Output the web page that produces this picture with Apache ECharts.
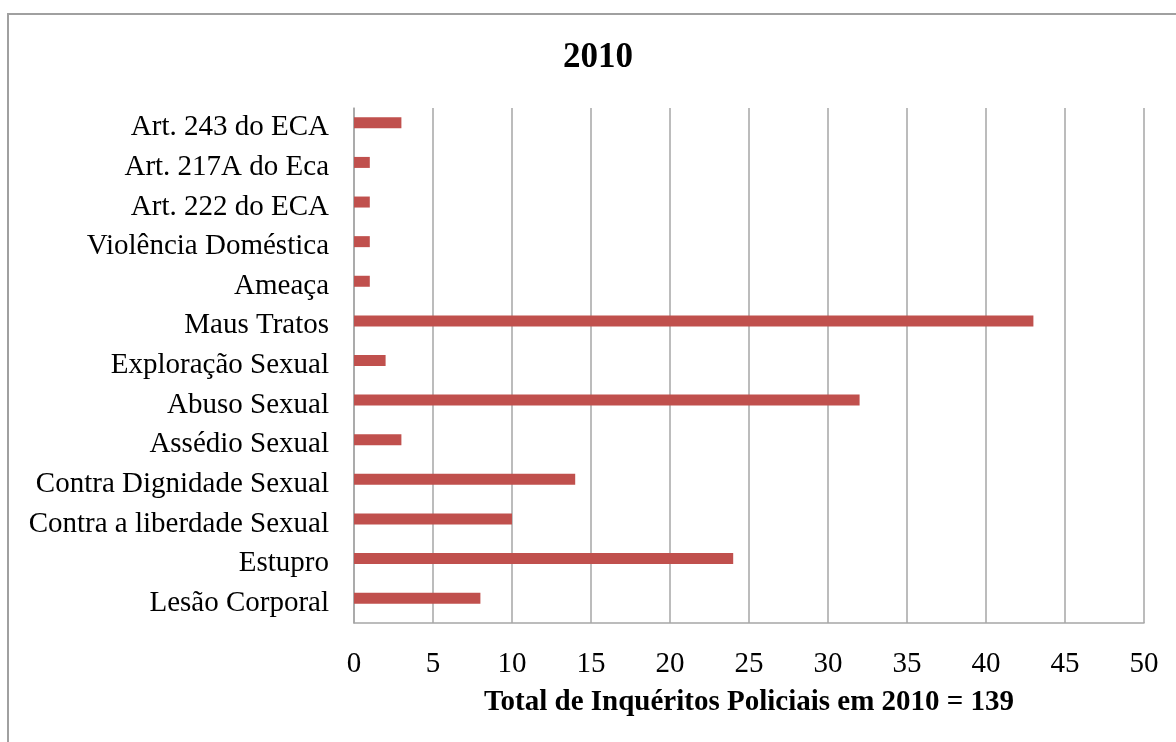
<!DOCTYPE html>
<html>
<head>
<meta charset="utf-8">
<title>2010</title>
<script src="https://cdn.jsdelivr.net/npm/echarts@6/dist/echarts.min.js"></script>
<style>
  html, body { margin: 0; padding: 0; background: #ffffff; }
  #chart { width: 1176px; height: 742px; }
</style>
</head>
<body>
<div id="chart"></div>
<script>
// Crime categories, listed bottom to top
const categories = [
  'Lesão Corporal',
  'Estupro',
  'Contra a liberdade Sexual',
  'Contra Dignidade Sexual',
  'Assédio Sexual',
  'Abuso Sexual',
  'Exploração Sexual',
  'Maus Tratos',
  'Ameaça',
  'Violência Doméstica',
  'Art. 222 do ECA',
  'Art. 217A do Eca',
  'Art. 243 do ECA'
];

// Number of police inquiries per category
const inquiries = [8, 24, 10, 14, 3, 32, 2, 43, 1, 1, 1, 1, 3];

const chartTitle = '2010';
const axisTitle = 'Total de Inquéritos Policiais em 2010 = 139';

const serif = '"Liberation Serif", "Times New Roman", serif';
const gridGray = '#A6A6A6';

const chart = echarts.init(document.getElementById('chart'));

chart.setOption({
  animation: false,
  backgroundColor: '#ffffff',
  graphic: [{
    type: 'rect',
    shape: { x: 8, y: 14, width: 1200, height: 760 },
    style: { fill: 'none', stroke: '#A0A0A0', lineWidth: 2 },
    silent: true,
    z: -1
  }],
  title: {
    text: chartTitle,
    left: 593,
    top: 35,
    textAlign: 'center',
    textStyle: { fontFamily: serif, fontSize: 35, fontWeight: 'bold', color: '#000' }
  },
  grid: {
    left: 354,
    top: 108,
    width: 790,
    height: 515,
    containLabel: false
  },
  xAxis: {
    type: 'value',
    min: 0,
    max: 50,
    interval: 5,
    name: axisTitle,
    nameLocation: 'middle',
    nameGap: 65,
    nameTextStyle: { fontFamily: serif, fontSize: 29, fontWeight: 'bold', color: '#000' },
    axisLine: { show: true, lineStyle: { color: gridGray, width: 1.5 } },
    axisTick: { show: false },
    axisLabel: { fontFamily: serif, fontSize: 29, color: '#000', margin: 27 },
    splitLine: { show: true, lineStyle: { color: gridGray, width: 1.5 } }
  },
  yAxis: {
    type: 'category',
    data: categories,
    axisLine: { show: true, lineStyle: { color: gridGray, width: 1.5 } },
    axisTick: { show: false },
    axisLabel: { fontFamily: serif, fontSize: 29, color: '#000', margin: 25, padding: [6, 0, 0, 0] },
    splitLine: { show: false }
  },
  series: [
    {
      type: 'bar',
      data: inquiries,
      barWidth: 11,
      barGap: '-9%',
      itemStyle: { color: '#C0504D' }
    },
    {
      // empty companion slot, keeps the bars in the upper half of each row
      type: 'bar',
      data: categories.map(() => null),
      barWidth: 11,
      silent: true
    }
  ]
});
</script>
</body>
</html>
